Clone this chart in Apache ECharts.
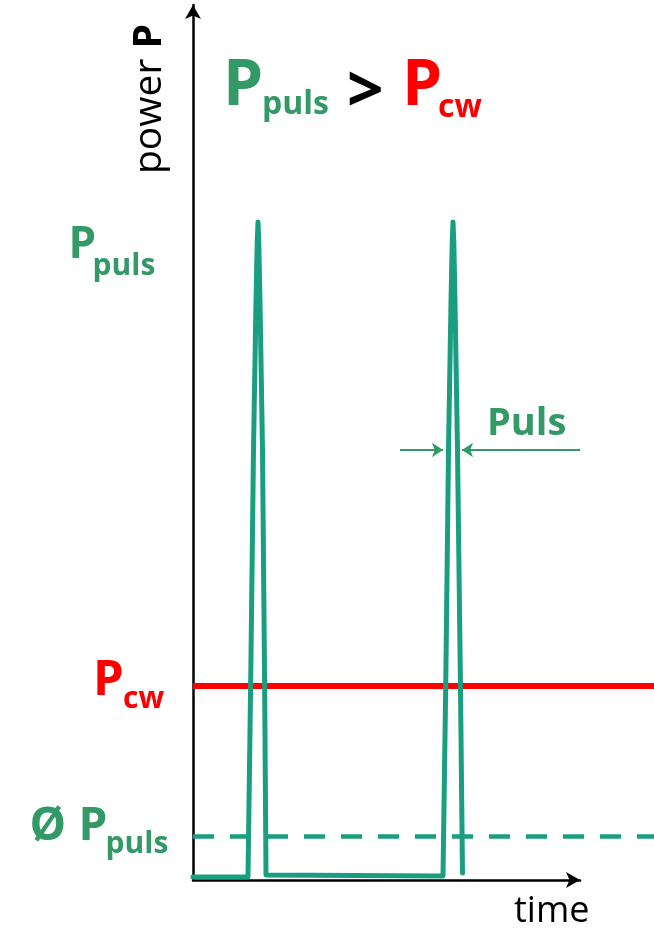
<!DOCTYPE html>
<html><head><meta charset="utf-8">
<script src="https://cdn.jsdelivr.net/npm/echarts@6/dist/echarts.min.js"></script>
<style>html,body{margin:0;padding:0;background:#fff}#c{width:654px;height:929px}</style>
</head><body><div id="c"></div>
<script>
// ---- data (time in arbitrary units 0..100, power in arbitrary units 0..100) ----
const timeRange = [0, 100];
const powerRange = [0, 100];
const pulseTime  = [0, 11.93, 12.52, 13.12, 13.67, 13.93, 14.10, 14.27, 14.53, 15.08, 15.53, 15.84,
                    54.23, 54.84, 55.42, 55.97, 56.23, 56.40, 56.57, 56.83, 57.38, 58.00, 58.46];
const pulsePower = [0.34, 0.34, 22.9, 49.0, 66.2, 72.96, 75.2, 72.96, 66.2, 49.0, 22.9, 0.57,
                    0.46, 22.9, 49.0, 66.2, 72.96, 75.2, 72.96, 66.2, 49.0, 22.9, 0.8];
const cwTime = [0, 100];
const cwPower = [22.17, 22.17];
const avgTime = [0, 100];
const avgPower = [4.97, 4.97];
const widthArrowFrom = [44.9, 83.95];
const widthArrowTo = [54.23, 58.35];
const widthArrowPower = 49.14;

const GREEN_LINE = '#1a9e80';
const GREEN_TEXT = '#339966';
const RED = '#ff0000';
const FONT = '"Open Sans", "Noto Sans", sans-serif';

const zip = (a, b) => a.map((v, i) => [v, b[i]]);

const chart = echarts.init(document.getElementById('c'), null, {renderer: 'canvas'});

function txt(x, y, text, size, color, weight, extra) {
  return Object.assign({
    type: 'text', x: x, y: y, silent: true,
    style: {text: text, fill: color, font: (weight || 'bold') + ' ' + size + 'px ' + FONT,
            textAlign: 'left', textVerticalAlign: 'top', verticalAlign: 'top'}
  }, extra || {});
}

const option = {
  animation: false,
  backgroundColor: '#fff',
  grid: [
    {left: 193, right: 74, top: 5, bottom: 49},
    {left: 193, right: 0, top: 5, bottom: 49}
  ],
  xAxis: [
    {gridIndex: 0, type: 'value', min: 0, max: 1,
     axisLine: {show: true, symbol: ['none', 'arrow'], symbolSize: [12, 14],
                lineStyle: {color: '#000', width: 2.5}},
     axisTick: {show: false}, axisLabel: {show: false}, splitLine: {show: false}},
    {gridIndex: 1, type: 'value', min: timeRange[0], max: timeRange[1], show: false}
  ],
  yAxis: [
    {gridIndex: 0, type: 'value', min: 0, max: 1,
     axisLine: {show: true, symbol: ['none', 'arrow'], symbolSize: [12, 14],
                lineStyle: {color: '#000', width: 2.5}},
     axisTick: {show: false}, axisLabel: {show: false}, splitLine: {show: false}},
    {gridIndex: 1, type: 'value', min: powerRange[0], max: powerRange[1], show: false}
  ],
  series: [
    {type: 'line', xAxisIndex: 1, yAxisIndex: 1, data: zip(avgTime, avgPower), symbol: 'none', z: 2,
     lineStyle: {color: GREEN_LINE, width: 4.5, type: [21, 16]}},
    {type: 'line', xAxisIndex: 1, yAxisIndex: 1, data: zip(cwTime, cwPower), symbol: 'none', z: 3,
     lineStyle: {color: RED, width: 6}},
    {type: 'line', xAxisIndex: 1, yAxisIndex: 1, data: zip(pulseTime, pulsePower), symbol: 'none', z: 4,
     lineStyle: {color: GREEN_LINE, width: 5, join: 'round', cap: 'round'}},
    {type: 'lines', coordinateSystem: 'cartesian2d', xAxisIndex: 1, yAxisIndex: 1, z: 5,
     symbol: ['none', 'arrow'], symbolSize: [11, 11],
     lineStyle: {color: GREEN_TEXT, width: 2, opacity: 1, curveness: 0},
     data: widthArrowFrom.map((f, i) => ({coords: [[f, widthArrowPower], [widthArrowTo[i], widthArrowPower]]}))}
  ],
  graphic: [
    // title
    txt(223, 55, 'P', 64, GREEN_TEXT),
    txt(262, 89, 'puls', 32, GREEN_TEXT),
    txt(347, 62, '>', 64, '#000'),
    txt(402, 55, 'P', 64, RED),
    txt(438, 92, 'cw', 32, RED),
    // y label
    {type: 'text', x: 130, y: 174, rotation: Math.PI / 2, silent: true,
     style: {text: '{a|power }{b|P}', textAlign: 'left', verticalAlign: 'top', textVerticalAlign: 'top',
             rich: {a: {font: 'normal 39px ' + FONT, fill: '#000'},
                    b: {font: 'bold 39px ' + FONT, fill: '#000'}}}},
    // left labels
    txt(68.5, 223.5, 'P', 44, GREEN_TEXT),
    txt(92.6, 251.5, 'puls', 30, GREEN_TEXT),
    txt(93, 656.5, 'P', 49, RED),
    txt(123, 684.5, 'cw', 30, RED),
    txt(29.5, 804, 'Ø', 46, GREEN_TEXT),
    txt(78.5, 804, 'P', 46, GREEN_TEXT),
    txt(105.6, 829, 'puls', 30, GREEN_TEXT),
    // pulse width label
    txt(487, 405, 'Puls', 38, GREEN_TEXT),
    // x label
    txt(514, 894, 'time', 36, '#000', 'normal')
  ]
};
chart.setOption(option);
</script>
</body></html>
